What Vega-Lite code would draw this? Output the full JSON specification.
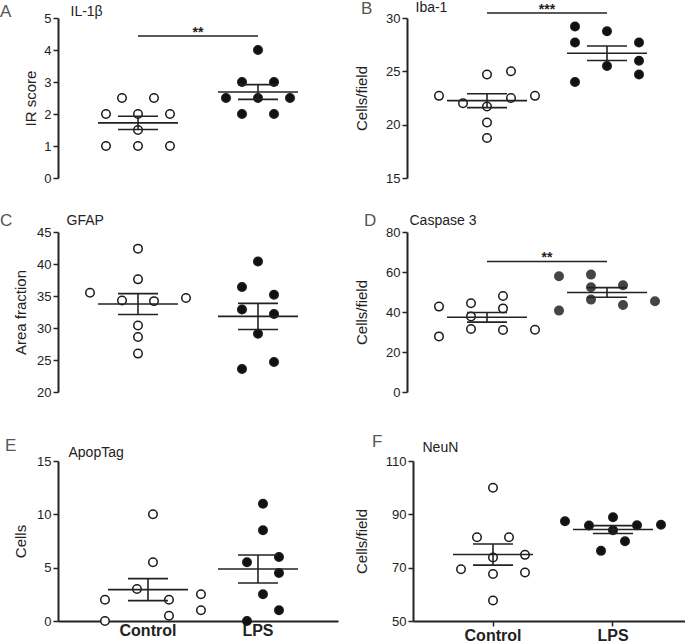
{
 "$schema": "https://vega.github.io/schema/vega-lite/v6.json",
 "padding": {"left": 0, "top": -1, "right": 0, "bottom": 0},
 "background": "white",
 "datasets": {
  "obs": [
   {"panel":"A","group":"Control","slot":-4,"value":2.5},{"panel":"A","group":"Control","slot":4,"value":2.5},
   {"panel":"A","group":"Control","slot":-8,"value":2.0},{"panel":"A","group":"Control","slot":0,"value":2.0},{"panel":"A","group":"Control","slot":8,"value":2.0},
   {"panel":"A","group":"Control","slot":0,"value":1.5},
   {"panel":"A","group":"Control","slot":-8,"value":1.0},{"panel":"A","group":"Control","slot":0,"value":1.0},{"panel":"A","group":"Control","slot":8,"value":1.0},
   {"panel":"A","group":"LPS","slot":0,"value":4.0},
   {"panel":"A","group":"LPS","slot":-4,"value":3.0},{"panel":"A","group":"LPS","slot":4,"value":3.0},
   {"panel":"A","group":"LPS","slot":-8,"value":2.5},{"panel":"A","group":"LPS","slot":0,"value":2.5},{"panel":"A","group":"LPS","slot":8,"value":2.5},
   {"panel":"A","group":"LPS","slot":-4,"value":2.0},{"panel":"A","group":"LPS","slot":4,"value":2.0},

   {"panel":"B","group":"Control","slot":0,"value":24.7},{"panel":"B","group":"Control","slot":6,"value":25.0},
   {"panel":"B","group":"Control","slot":-12,"value":22.7},{"panel":"B","group":"Control","slot":12,"value":22.7},
   {"panel":"B","group":"Control","slot":6,"value":22.5},{"panel":"B","group":"Control","slot":-6,"value":22.0},
   {"panel":"B","group":"Control","slot":0,"value":21.7},{"panel":"B","group":"Control","slot":0,"value":20.2},
   {"panel":"B","group":"Control","slot":0,"value":18.75},
   {"panel":"B","group":"LPS","slot":-8,"value":29.2},{"panel":"B","group":"LPS","slot":0,"value":28.75},
   {"panel":"B","group":"LPS","slot":-8,"value":27.7},{"panel":"B","group":"LPS","slot":8,"value":27.7},
   {"panel":"B","group":"LPS","slot":8,"value":26.0},{"panel":"B","group":"LPS","slot":0,"value":25.5},
   {"panel":"B","group":"LPS","slot":8,"value":24.7},{"panel":"B","group":"LPS","slot":-8,"value":24.0},

   {"panel":"C","group":"Control","slot":0,"value":42.4},{"panel":"C","group":"Control","slot":0,"value":37.6},
   {"panel":"C","group":"Control","slot":-12,"value":35.5},{"panel":"C","group":"Control","slot":12,"value":34.7},
   {"panel":"C","group":"Control","slot":-4,"value":34.3},{"panel":"C","group":"Control","slot":4,"value":34.2},
   {"panel":"C","group":"Control","slot":0,"value":30.4},{"panel":"C","group":"Control","slot":0,"value":28.6},
   {"panel":"C","group":"Control","slot":0,"value":26.0},
   {"panel":"C","group":"LPS","slot":0,"value":40.4},{"panel":"C","group":"LPS","slot":-4,"value":36.4},
   {"panel":"C","group":"LPS","slot":4,"value":35.2},{"panel":"C","group":"LPS","slot":-4,"value":32.9},
   {"panel":"C","group":"LPS","slot":4,"value":32.2},{"panel":"C","group":"LPS","slot":0,"value":29.1},
   {"panel":"C","group":"LPS","slot":4,"value":24.7},{"panel":"C","group":"LPS","slot":-4,"value":23.6},

   {"panel":"D","group":"Control","slot":-12,"value":42.7},{"panel":"D","group":"Control","slot":-4,"value":44.4},
   {"panel":"D","group":"Control","slot":4,"value":48.0},{"panel":"D","group":"Control","slot":4,"value":41.8},
   {"panel":"D","group":"Control","slot":-4,"value":37.8},{"panel":"D","group":"Control","slot":-4,"value":31.5},
   {"panel":"D","group":"Control","slot":4,"value":31.0},{"panel":"D","group":"Control","slot":12,"value":31.1},
   {"panel":"D","group":"Control","slot":-12,"value":27.8},
   {"panel":"D","group":"LPS","slot":-12,"value":57.9},{"panel":"D","group":"LPS","slot":-4,"value":58.7},
   {"panel":"D","group":"LPS","slot":-4,"value":52.4},{"panel":"D","group":"LPS","slot":4,"value":53.4},
   {"panel":"D","group":"LPS","slot":-4,"value":46.2},{"panel":"D","group":"LPS","slot":4,"value":43.5},
   {"panel":"D","group":"LPS","slot":12,"value":45.4},{"panel":"D","group":"LPS","slot":-12,"value":40.7},

   {"panel":"E","group":"Control","slot":0,"value":10.0},{"panel":"E","group":"Control","slot":0,"value":5.5},
   {"panel":"E","group":"Control","slot":-4,"value":3.0},{"panel":"E","group":"Control","slot":-12,"value":2.0},
   {"panel":"E","group":"Control","slot":4,"value":2.0},{"panel":"E","group":"Control","slot":12,"value":2.5},
   {"panel":"E","group":"Control","slot":12,"value":1.0},{"panel":"E","group":"Control","slot":4,"value":0.5},
   {"panel":"E","group":"Control","slot":-12,"value":0.0},
   {"panel":"E","group":"LPS","slot":0,"value":11.0},{"panel":"E","group":"LPS","slot":0,"value":8.5},
   {"panel":"E","group":"LPS","slot":-4,"value":5.5},{"panel":"E","group":"LPS","slot":4,"value":6.0},
   {"panel":"E","group":"LPS","slot":4,"value":4.5},{"panel":"E","group":"LPS","slot":0,"value":2.5},
   {"panel":"E","group":"LPS","slot":4,"value":1.0},{"panel":"E","group":"LPS","slot":-4,"value":0.0},

   {"panel":"F","group":"Control","slot":0,"value":100.0},{"panel":"F","group":"Control","slot":-4,"value":81.4},
   {"panel":"F","group":"Control","slot":4,"value":81.4},{"panel":"F","group":"Control","slot":8,"value":74.8},
   {"panel":"F","group":"Control","slot":0,"value":73.8},{"panel":"F","group":"Control","slot":-8,"value":69.4},
   {"panel":"F","group":"Control","slot":8,"value":68.2},{"panel":"F","group":"Control","slot":0,"value":67.6},
   {"panel":"F","group":"Control","slot":0,"value":57.7},
   {"panel":"F","group":"LPS","slot":-12,"value":87.4},{"panel":"F","group":"LPS","slot":0,"value":88.9},
   {"panel":"F","group":"LPS","slot":-6,"value":85.8},{"panel":"F","group":"LPS","slot":6,"value":85.9},
   {"panel":"F","group":"LPS","slot":12,"value":86.1},{"panel":"F","group":"LPS","slot":0,"value":84.0},
   {"panel":"F","group":"LPS","slot":3,"value":79.9},{"panel":"F","group":"LPS","slot":-3,"value":76.3}
  ],
  "sig": [
   {"panel":"A","group":"Control","y":4.44,"label":"**"},{"panel":"A","group":"LPS","y":4.44,"label":""},
   {"panel":"B","group":"Control","y":30.47,"label":"***"},{"panel":"B","group":"LPS","y":30.47,"label":""},
   {"panel":"D","group":"Control","y":65.3,"label":"**"},{"panel":"D","group":"LPS","y":65.3,"label":""}
  ]
 },
 "vconcat": [
  {
   "concat": [
    {
     "width": 280, "height": 160,
     "title": {"text": "A", "dx": -58, "offset": -16.5},
     "layer": [
      {"data": {"name": "obs"}, "transform": [{"filter": "datum.panel == 'A'"}],
       "mark": {"type": "point", "shape": "circle", "filled": true, "size": 72, "strokeWidth": 1.5, "opacity": 1},
       "encoding": {
        "x": {"field": "group", "type": "nominal", "scale": {"domain": ["Control", "LPS"], "paddingInner": 0, "paddingOuter": 0.1667},
              "axis": {"orient": "top", "title": "IL-1β", "domain": false, "ticks": false, "labels": false, "titleFontSize": 14, "titleAnchor": "start", "titleAlign": "left", "titleBaseline": "alphabetic", "titleX": 12, "titleY": -3}},
        "xOffset": {"field": "slot", "type": "nominal", "scale": {"type": "point", "domain": [-14,-13,-12,-11,-10,-9,-8,-7,-6,-5,-4,-3,-2,-1,0,1,2,3,4,5,6,7,8,9,10,11,12,13,14], "padding": 7.43}},
        "y": {"field": "value", "type": "quantitative", "title": "IR score", "scale": {"domain": [0, 5], "nice": false, "zero": false}, "axis": {"values": [0, 1, 2, 3, 4, 5], "titlePadding": 5, "labelOverlap": false}},
        "fill": {"condition": {"test": "datum.group == 'LPS'", "value": "#111111"}, "value": "#ffffff"},
        "stroke": {"value": "#1a1a1a"}
       }},
      {"data": {"name": "obs"}, "transform": [{"filter": "datum.panel == 'A'"}],
       "mark": {"type": "tick", "size": 80, "thickness": 1.6, "color": "#222222", "opacity": 1},
       "encoding": {"x": {"field": "group", "type": "nominal", "title": "IL-1β"}, "y": {"field": "value", "aggregate": "mean", "type": "quantitative", "title": "IR score", "axis": {"values": [0, 1, 2, 3, 4, 5], "titlePadding": 5, "labelOverlap": false}}}},
      {"data": {"name": "obs"}, "transform": [{"filter": "datum.panel == 'A'"}],
       "mark": {"type": "errorbar", "extent": "stderr", "color": "#222222", "thickness": 1.6, "ticks": {"size": 40, "opacity": 1}},
       "encoding": {"x": {"field": "group", "type": "nominal", "title": "IL-1β"}, "y": {"field": "value", "type": "quantitative", "title": "IR score", "axis": {"values": [0, 1, 2, 3, 4, 5], "titlePadding": 5, "labelOverlap": false}}}},
      {"data": {"name": "sig"}, "transform": [{"filter": "datum.panel == 'A'"}],
       "mark": {"type": "line", "color": "#222222", "strokeWidth": 1.5},
       "encoding": {"x": {"field": "group", "type": "nominal", "title": "IL-1β"}, "y": {"field": "y", "type": "quantitative", "title": "IR score", "axis": {"values": [0, 1, 2, 3, 4, 5], "titlePadding": 5, "labelOverlap": false}}}},
      {"data": {"name": "sig"}, "transform": [{"filter": "datum.panel == 'A' && datum.label != ''"}],
       "mark": {"type": "text", "fontSize": 14, "fontWeight": "bold", "baseline": "alphabetic", "dy": 1, "color": "#222222", "font": "Liberation Sans"},
       "encoding": {"x": {"field": "group", "type": "nominal", "bandPosition": 1, "title": "IL-1β"}, "y": {"field": "y", "type": "quantitative", "title": "IR score", "axis": {"values": [0, 1, 2, 3, 4, 5], "titlePadding": 5, "labelOverlap": false}}, "text": {"field": "label"}}}
     ]
    },
    {
     "width": 280, "height": 160,
     "title": {"text": "B", "dx": -46, "offset": -17.5},
     "layer": [
      {"data": {"name": "obs"}, "transform": [{"filter": "datum.panel == 'B'"}],
       "mark": {"type": "point", "shape": "circle", "filled": true, "size": 72, "strokeWidth": 1.5, "opacity": 1},
       "encoding": {
        "x": {"field": "group", "type": "nominal", "scale": {"domain": ["Control", "LPS"], "paddingInner": 0, "paddingOuter": 0.1667},
              "axis": {"orient": "top", "title": "Iba-1", "domain": false, "ticks": false, "labels": false, "titleFontSize": 14, "titleAnchor": "start", "titleAlign": "left", "titleBaseline": "alphabetic", "titleX": 8, "titleY": -7}},
        "xOffset": {"field": "slot", "type": "nominal", "scale": {"type": "point", "domain": [-14,-13,-12,-11,-10,-9,-8,-7,-6,-5,-4,-3,-2,-1,0,1,2,3,4,5,6,7,8,9,10,11,12,13,14], "padding": 7.43}},
        "y": {"field": "value", "type": "quantitative", "title": "Cells/field", "scale": {"domain": [15, 30], "nice": false, "zero": false}, "axis": {"values": [15, 20, 25, 30], "titlePadding": 16, "labelOverlap": false}},
        "fill": {"condition": {"test": "datum.group == 'LPS'", "value": "#111111"}, "value": "#ffffff"},
        "stroke": {"value": "#1a1a1a"}
       }},
      {"data": {"name": "obs"}, "transform": [{"filter": "datum.panel == 'B'"}],
       "mark": {"type": "tick", "size": 80, "thickness": 1.6, "color": "#222222", "opacity": 1},
       "encoding": {"x": {"field": "group", "type": "nominal", "title": "Iba-1"}, "y": {"field": "value", "aggregate": "mean", "type": "quantitative", "title": "Cells/field", "axis": {"values": [15, 20, 25, 30], "titlePadding": 16, "labelOverlap": false}}}},
      {"data": {"name": "obs"}, "transform": [{"filter": "datum.panel == 'B'"}],
       "mark": {"type": "errorbar", "extent": "stderr", "color": "#222222", "thickness": 1.6, "ticks": {"size": 40, "opacity": 1}},
       "encoding": {"x": {"field": "group", "type": "nominal", "title": "Iba-1"}, "y": {"field": "value", "type": "quantitative", "title": "Cells/field", "axis": {"values": [15, 20, 25, 30], "titlePadding": 16, "labelOverlap": false}}}},
      {"data": {"name": "sig"}, "transform": [{"filter": "datum.panel == 'B'"}],
       "mark": {"type": "line", "color": "#222222", "strokeWidth": 1.5},
       "encoding": {"x": {"field": "group", "type": "nominal", "title": "Iba-1"}, "y": {"field": "y", "type": "quantitative", "title": "Cells/field", "axis": {"values": [15, 20, 25, 30], "titlePadding": 16, "labelOverlap": false}}}},
      {"data": {"name": "sig"}, "transform": [{"filter": "datum.panel == 'B' && datum.label != ''"}],
       "mark": {"type": "text", "fontSize": 14, "fontWeight": "bold", "baseline": "alphabetic", "dy": 1, "color": "#222222", "font": "Liberation Sans"},
       "encoding": {"x": {"field": "group", "type": "nominal", "bandPosition": 1, "title": "Iba-1"}, "y": {"field": "y", "type": "quantitative", "title": "Cells/field", "axis": {"values": [15, 20, 25, 30], "titlePadding": 16, "labelOverlap": false}}, "text": {"field": "label"}}}
     ]
    },
    {
     "width": 280, "height": 160,
     "title": {"text": "C", "dx": -58, "offset": -16.5},
     "layer": [
      {"data": {"name": "obs"}, "transform": [{"filter": "datum.panel == 'C'"}],
       "mark": {"type": "point", "shape": "circle", "filled": true, "size": 72, "strokeWidth": 1.5, "opacity": 1},
       "encoding": {
        "x": {"field": "group", "type": "nominal", "scale": {"domain": ["Control", "LPS"], "paddingInner": 0, "paddingOuter": 0.1667},
              "axis": {"orient": "top", "title": "GFAP", "domain": false, "ticks": false, "labels": false, "titleFontSize": 14, "titleAnchor": "start", "titleAlign": "left", "titleBaseline": "alphabetic", "titleX": 8, "titleY": -8}},
        "xOffset": {"field": "slot", "type": "nominal", "scale": {"type": "point", "domain": [-14,-13,-12,-11,-10,-9,-8,-7,-6,-5,-4,-3,-2,-1,0,1,2,3,4,5,6,7,8,9,10,11,12,13,14], "padding": 7.43}},
        "y": {"field": "value", "type": "quantitative", "title": "Area fraction", "scale": {"domain": [20, 45], "nice": false, "zero": false}, "axis": {"values": [20, 25, 30, 35, 40, 45], "titlePadding": 8, "labelOverlap": false}},
        "fill": {"condition": {"test": "datum.group == 'LPS'", "value": "#111111"}, "value": "#ffffff"},
        "stroke": {"value": "#1a1a1a"}
       }},
      {"data": {"name": "obs"}, "transform": [{"filter": "datum.panel == 'C'"}],
       "mark": {"type": "tick", "size": 80, "thickness": 1.6, "color": "#222222", "opacity": 1},
       "encoding": {"x": {"field": "group", "type": "nominal", "title": "GFAP"}, "y": {"field": "value", "aggregate": "mean", "type": "quantitative", "title": "Area fraction", "axis": {"values": [20, 25, 30, 35, 40, 45], "titlePadding": 8, "labelOverlap": false}}}},
      {"data": {"name": "obs"}, "transform": [{"filter": "datum.panel == 'C'"}],
       "mark": {"type": "errorbar", "extent": "stderr", "color": "#222222", "thickness": 1.6, "ticks": {"size": 40, "opacity": 1}},
       "encoding": {"x": {"field": "group", "type": "nominal", "title": "GFAP"}, "y": {"field": "value", "type": "quantitative", "title": "Area fraction", "axis": {"values": [20, 25, 30, 35, 40, 45], "titlePadding": 8, "labelOverlap": false}}}}
     ]
    },
    {
     "width": 280, "height": 160,
     "title": {"text": "D", "dx": -43, "offset": -16.5},
     "layer": [
      {"data": {"name": "obs"}, "transform": [{"filter": "datum.panel == 'D'"}],
       "mark": {"type": "point", "shape": "circle", "filled": true, "size": 72, "strokeWidth": 1.5, "opacity": 1},
       "encoding": {
        "x": {"field": "group", "type": "nominal", "scale": {"domain": ["Control", "LPS"], "paddingInner": 0, "paddingOuter": 0.1667},
              "axis": {"orient": "top", "title": "Caspase 3", "domain": false, "ticks": false, "labels": false, "titleFontSize": 14, "titleAnchor": "start", "titleAlign": "left", "titleBaseline": "alphabetic", "titleX": 2, "titleY": -8}},
        "xOffset": {"field": "slot", "type": "nominal", "scale": {"type": "point", "domain": [-14,-13,-12,-11,-10,-9,-8,-7,-6,-5,-4,-3,-2,-1,0,1,2,3,4,5,6,7,8,9,10,11,12,13,14], "padding": 7.43}},
        "y": {"field": "value", "type": "quantitative", "title": "Cells/field", "scale": {"domain": [0, 80], "nice": false, "zero": false}, "axis": {"values": [0, 20, 40, 60, 80], "titlePadding": 16, "labelOverlap": false}},
        "fill": {"condition": {"test": "datum.group == 'LPS'", "value": "#454545"}, "value": "#ffffff"},
        "stroke": {"condition": {"test": "datum.group == 'LPS'", "value": "#454545"}, "value": "#1a1a1a"}
       }},
      {"data": {"name": "obs"}, "transform": [{"filter": "datum.panel == 'D'"}],
       "mark": {"type": "tick", "size": 80, "thickness": 1.6, "color": "#222222", "opacity": 1},
       "encoding": {"x": {"field": "group", "type": "nominal", "title": "Caspase 3"}, "y": {"field": "value", "aggregate": "mean", "type": "quantitative", "title": "Cells/field", "axis": {"values": [0, 20, 40, 60, 80], "titlePadding": 16, "labelOverlap": false}}}},
      {"data": {"name": "obs"}, "transform": [{"filter": "datum.panel == 'D'"}],
       "mark": {"type": "errorbar", "extent": "stderr", "color": "#222222", "thickness": 1.6, "ticks": {"size": 40, "opacity": 1}},
       "encoding": {"x": {"field": "group", "type": "nominal", "title": "Caspase 3"}, "y": {"field": "value", "type": "quantitative", "title": "Cells/field", "axis": {"values": [0, 20, 40, 60, 80], "titlePadding": 16, "labelOverlap": false}}}},
      {"data": {"name": "sig"}, "transform": [{"filter": "datum.panel == 'D'"}],
       "mark": {"type": "line", "color": "#222222", "strokeWidth": 1.5},
       "encoding": {"x": {"field": "group", "type": "nominal", "title": "Caspase 3"}, "y": {"field": "y", "type": "quantitative", "title": "Cells/field", "axis": {"values": [0, 20, 40, 60, 80], "titlePadding": 16, "labelOverlap": false}}}},
      {"data": {"name": "sig"}, "transform": [{"filter": "datum.panel == 'D' && datum.label != ''"}],
       "mark": {"type": "text", "fontSize": 14, "fontWeight": "bold", "baseline": "alphabetic", "dy": 1, "color": "#222222", "font": "Liberation Sans"},
       "encoding": {"x": {"field": "group", "type": "nominal", "bandPosition": 1, "title": "Caspase 3"}, "y": {"field": "y", "type": "quantitative", "title": "Cells/field", "axis": {"values": [0, 20, 40, 60, 80], "titlePadding": 16, "labelOverlap": false}}, "text": {"field": "label"}}}
     ]
    }
   ],
   "columns": 2,
   "spacing": {"row": 26, "column": 16}
  },
  {
   "hconcat": [
    {
     "width": 280, "height": 160,
     "title": {"text": "E", "dx": -53, "offset": -9.5},
     "layer": [
      {"data": {"name": "obs"}, "transform": [{"filter": "datum.panel == 'E'"}],
       "mark": {"type": "point", "shape": "circle", "filled": true, "size": 72, "strokeWidth": 1.5, "opacity": 1},
       "encoding": {
        "x": {"field": "group", "type": "nominal", "scale": {"domain": ["Control", "LPS"], "paddingInner": 0, "paddingOuter": 0.2727, "align": 0.583},
              "axis": {"orient": "bottom", "title": null, "labelFontSize": 16, "labelFontWeight": "bold", "labelPadding": 1, "labelAngle": 0, "labelOverlap": false, "ticks": false}},
        "xOffset": {"field": "slot", "type": "nominal", "scale": {"type": "point", "domain": [-14,-13,-12,-11,-10,-9,-8,-7,-6,-5,-4,-3,-2,-1,0,1,2,3,4,5,6,7,8,9,10,11,12,13,14], "padding": 7.43}},
        "y": {"field": "value", "type": "quantitative", "title": "Cells", "scale": {"domain": [0, 15], "nice": false, "zero": false}, "axis": {"values": [0, 5, 10, 15], "titlePadding": 8, "labelOverlap": false}},
        "fill": {"condition": {"test": "datum.group == 'LPS'", "value": "#111111"}, "value": "#ffffff"},
        "stroke": {"value": "#1a1a1a"}
       }},
      {"data": {"name": "obs"}, "transform": [{"filter": "datum.panel == 'E'"}],
       "mark": {"type": "tick", "size": 80, "thickness": 1.6, "color": "#222222", "opacity": 1},
       "encoding": {"x": {"field": "group", "type": "nominal",
              "axis": {"orient": "top", "title": "ApopTag", "domain": false, "ticks": false, "labels": false, "titleFontSize": 14, "titleAnchor": "start", "titleAlign": "left", "titleBaseline": "alphabetic", "titleX": 10, "titleY": -5}},
                    "y": {"field": "value", "aggregate": "mean", "type": "quantitative", "title": "Cells", "axis": {"values": [0, 5, 10, 15], "titlePadding": 8, "labelOverlap": false}}}},
      {"data": {"name": "obs"}, "transform": [{"filter": "datum.panel == 'E'"}],
       "mark": {"type": "errorbar", "extent": "stderr", "color": "#222222", "thickness": 1.6, "ticks": {"size": 40, "opacity": 1}},
       "encoding": {"x": {"field": "group", "type": "nominal", "axis": null}, "y": {"field": "value", "type": "quantitative", "title": "Cells", "axis": {"values": [0, 5, 10, 15], "titlePadding": 8, "labelOverlap": false}}}}
     ]
    },
    {
     "width": 280, "height": 160,
     "title": {"text": "F", "dx": -41, "offset": -10.5},
     "layer": [
      {"data": {"name": "obs"}, "transform": [{"filter": "datum.panel == 'F'"}],
       "mark": {"type": "point", "shape": "circle", "filled": true, "size": 72, "strokeWidth": 1.5, "opacity": 1},
       "encoding": {
        "x": {"field": "group", "type": "nominal", "scale": {"domain": ["Control", "LPS"], "paddingInner": 0, "paddingOuter": 0.1667},
              "axis": {"orient": "bottom", "title": null, "labelFontSize": 16, "labelFontWeight": "bold", "labelPadding": 1, "labelAngle": 0, "labelOverlap": false, "ticks": true, "tickSize": 5}},
        "xOffset": {"field": "slot", "type": "nominal", "scale": {"type": "point", "domain": [-14,-13,-12,-11,-10,-9,-8,-7,-6,-5,-4,-3,-2,-1,0,1,2,3,4,5,6,7,8,9,10,11,12,13,14], "padding": 7.43}},
        "y": {"field": "value", "type": "quantitative", "title": "Cells/field", "scale": {"domain": [50, 110], "nice": false, "zero": false}, "axis": {"values": [50, 70, 90, 110], "titlePadding": 16, "labelOverlap": false}},
        "fill": {"condition": {"test": "datum.group == 'LPS'", "value": "#111111"}, "value": "#ffffff"},
        "stroke": {"value": "#1a1a1a"}
       }},
      {"data": {"name": "obs"}, "transform": [{"filter": "datum.panel == 'F'"}],
       "mark": {"type": "tick", "size": 80, "thickness": 1.6, "color": "#222222", "opacity": 1},
       "encoding": {"x": {"field": "group", "type": "nominal",
              "axis": {"orient": "top", "title": "NeuN", "domain": false, "ticks": false, "labels": false, "titleFontSize": 14, "titleAnchor": "start", "titleAlign": "left", "titleBaseline": "alphabetic", "titleX": 9, "titleY": -10}},
                    "y": {"field": "value", "aggregate": "mean", "type": "quantitative", "title": "Cells/field", "axis": {"values": [50, 70, 90, 110], "titlePadding": 16, "labelOverlap": false}}}},
      {"data": {"name": "obs"}, "transform": [{"filter": "datum.panel == 'F'"}],
       "mark": {"type": "errorbar", "extent": "stderr", "color": "#222222", "thickness": 1.6, "ticks": {"size": 40, "opacity": 1}},
       "encoding": {"x": {"field": "group", "type": "nominal", "axis": null}, "y": {"field": "value", "type": "quantitative", "title": "Cells/field", "axis": {"values": [50, 70, 90, 110], "titlePadding": 16, "labelOverlap": false}}}}
     ]
    }
   ],
   "spacing": 16
  }
 ],
 "spacing": 33,
 "config": {
  "view": {"stroke": null},
  "font": "Liberation Sans",
  "title": {"anchor": "start", "frame": "group", "fontSize": 17, "fontWeight": "normal", "color": "#555555", "font": "Liberation Sans", "baseline": "alphabetic"},
  "axis": {"grid": false, "domainColor": "#222222", "domainWidth": 2, "tickColor": "#222222", "tickWidth": 1.5, "tickSize": 5,
           "labelFont": "Liberation Sans", "labelFontSize": 13, "labelColor": "#222222", "labelPadding": 2,
           "titleFont": "Liberation Sans", "titleFontSize": 15, "titleFontWeight": "normal", "titleColor": "#222222"}
 }
}
